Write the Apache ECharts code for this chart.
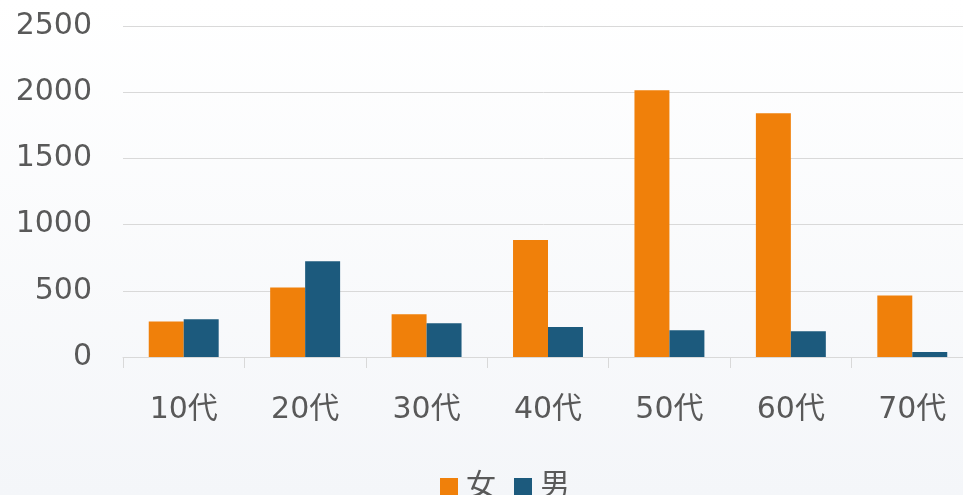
<!DOCTYPE html>
<html><head><meta charset="utf-8">
<script src="https://cdn.jsdelivr.net/npm/echarts@6/dist/echarts.min.js"></script>
<style>html,body{margin:0;padding:0;}#c{width:963px;height:495px;}</style>
</head><body><div id="c"></div>
<script>
const categories = ['10代','20代','30代','40代','50代','60代','70代'];
const female = [268, 525, 322, 883, 2015, 1841, 464];
const male = [285, 723, 254, 227, 202, 194, 38];
const yTicks = [0, 500, 1000, 1500, 2000, 2500];
const seriesNames = ['女', '男'];

const font = 'Verdana, "DejaVu Sans", "Noto Sans CJK JP", sans-serif';
const chart = echarts.init(document.getElementById('c'));
chart.setOption({
  backgroundColor: new echarts.graphic.LinearGradient(0,0,0,1,[{offset:0,color:'#ffffff'},{offset:1,color:'#f4f6f9'}]),
  animation: false,
  grid: {left: 123, top: 26, right: -10, height: 331, containLabel: false, outerBoundsMode: 'none'},
  legend: {
    data: seriesNames, bottom: -12, left: 435, itemWidth: 18, itemHeight: 18, itemGap: 18,
    icon: 'rect',
    textStyle: {color: '#595959', fontSize: 30, fontFamily: font, padding: [0,0,0,3]}
  },
  xAxis: {
    type: 'category', data: categories,
    axisLine: {lineStyle: {color: '#d9d9d9', width: 1}},
    axisTick: {show: true, length: 11, lineStyle: {color: '#d9d9d9'}},
    axisLabel: {color: '#595959', fontSize: 30, fontFamily: font, margin: 38}
  },
  yAxis: {
    type: 'value', min: yTicks[0], max: yTicks[yTicks.length-1], interval: 500,
    axisLine: {show: false}, axisTick: {show: false},
    splitLine: {lineStyle: {color: '#d9d9d9', width: 1}},
    axisLabel: {color: '#595959', fontSize: 30, fontFamily: font, margin: 31, formatter: v => String(v)}
  },
  series: [
    {name: seriesNames[0], type: 'bar', data: female, barWidth: '28.8%', barGap: '0%',
     itemStyle: {color: '#f0800a'}},
    {name: seriesNames[1], type: 'bar', data: male, barWidth: '28.8%', barGap: '0%',
     itemStyle: {color: '#1c5a7d'}}
  ]
});
</script></body></html>
